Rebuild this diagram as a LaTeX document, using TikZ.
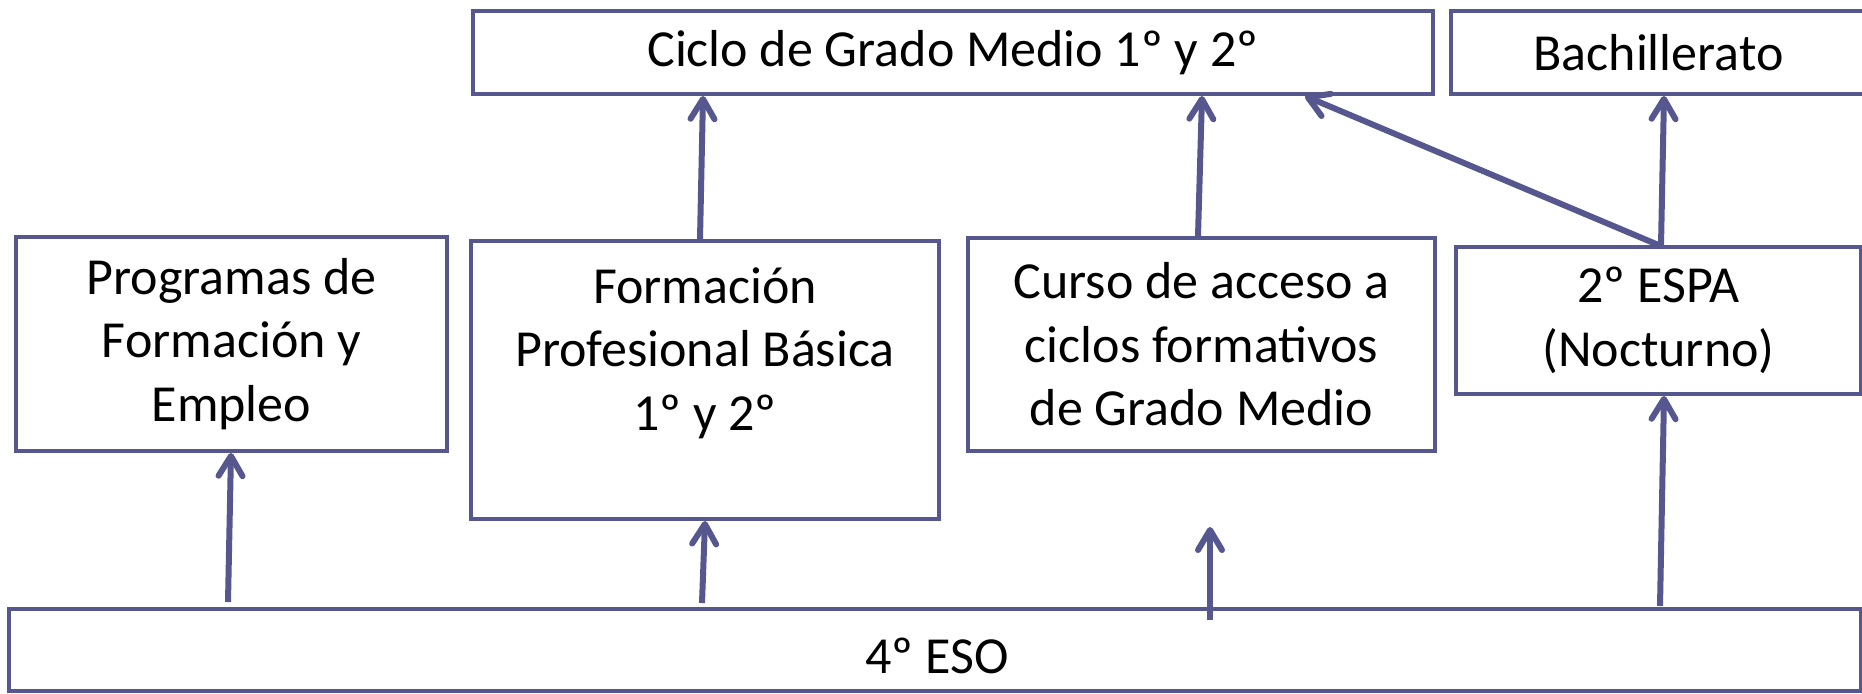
\documentclass[tikz,border=0pt]{standalone}
\usepackage{fontspec}
\setmainfont{Carlito}
\usetikzlibrary{arrows.meta}
\definecolor{edgecol}{RGB}{85,87,142}
\begin{document}
\begin{tikzpicture}[x=0.5pt,y=-0.5pt,
  box/.style={draw=edgecol, line width=2pt, rectangle, inner sep=0pt, align=center,
    font=\fontsize{26}{31.75}\selectfont},
  lbl/.style={inner sep=0pt, align=center, font=\fontsize{26}{31.75}\selectfont},
  conn/.style={draw=edgecol, line width=3pt, -{Straight Barb[length=10pt,width=12pt,round]}},
]
\useasboundingbox (0,0) rectangle (1862,693);
% boxes
\node[box, minimum width=215.5pt, minimum height=107pt] (prog) at (231.5,344) {Programas de\\Formación y\\Empleo};
\node[box, minimum width=234pt, minimum height=139pt] (fpb) at (705,380) {};
\node[lbl] (fpbt) at (705,353) {Formación\\Profesional Básica\\1º y 2º};
\node[box, minimum width=233.5pt, minimum height=106.5pt] (curso) at (1201.5,344.5) {Curso de acceso a\\ciclos formativos\\de Grado Medio};
\node[box, minimum width=202.5pt, minimum height=73.5pt] (espa) at (1658.5,320.5) {2º ESPA\\(Nocturno)};
\node[box, minimum width=480pt, minimum height=41.5pt] (ciclo) at (953,52.5) {Ciclo de Grado Medio 1º y 2º};
\node[box, minimum width=207.5pt, minimum height=41.5pt] (bach) at (1658.5,52.5) {Bachillerato};
\node[box, minimum width=925.75pt, minimum height=41pt] (eso) at (935,650) {};
\node[lbl] (esot) at (937,656) {4º ESO};
% connector anchors
\coordinate (s1) at (228,602);
\coordinate (e1) at (231,0);
\coordinate (s2) at (702,603);
\coordinate (e2) at (705,0);
\coordinate (s3) at (1210,620);
\coordinate (e3) at (1210,527);
\coordinate (s4) at (1660,606);
\coordinate (e4) at (1664,0);
\coordinate (s5) at (700,0);
\coordinate (e5) at (703,0);
\coordinate (s6) at (1198,0);
\coordinate (e6) at (1202,0);
\coordinate (e7) at (1305,0);
\coordinate (s8) at (1661,0);
\coordinate (e8) at (1664,0);
% connectors
\draw[conn] (s1) -- (prog.south -| e1);
\draw[conn] (s2) -- (fpb.south -| e2);
\draw[conn] (s3) -- (e3);
\draw[conn] (s4) -- (espa.south -| e4);
\draw[conn] (fpb.north -| s5) -- (ciclo.south -| e5);
\draw[conn] (curso.north -| s6) -- (ciclo.south -| e6);
\draw[conn] (espa.north) -- (ciclo.south -| e7);
\draw[conn] (espa.north -| s8) -- (bach.south -| e8);
\end{tikzpicture}
\end{document}
